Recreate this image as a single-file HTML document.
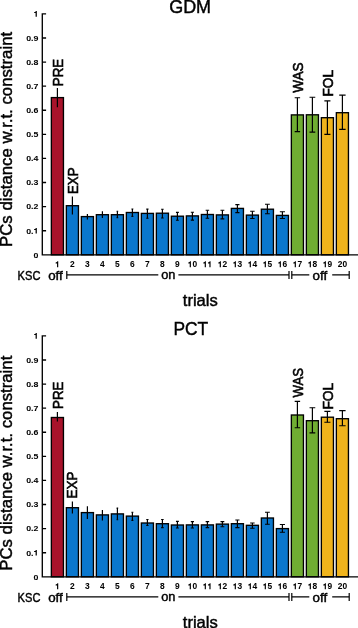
<!DOCTYPE html>
<html><head><meta charset="utf-8"><style>
html,body{margin:0;padding:0;background:#fff;width:358px;height:628px;overflow:hidden}
svg{display:block;font-family:"Liberation Sans",sans-serif}
text{stroke:#000;stroke-width:0.45px}
text.b{stroke-width:0.05px}
text.L{stroke-width:0.6px}
.g{opacity:0.999}
</style></head><body>
<svg width="358" height="628" viewBox="0 0 358 628">
<rect width="358" height="628" fill="#fff"/>
<g class="g" transform="translate(0,0)">

<text x="190.15" y="13.4" font-size="18.6" text-anchor="middle" textLength="41.9" lengthAdjust="spacingAndGlyphs">GDM</text>
<text transform="translate(11.9,139.4) rotate(-90)" font-size="16.2" text-anchor="middle" textLength="215" lengthAdjust="spacingAndGlyphs">PCs distance w.r.t. constraint</text>
<rect x="51.35" y="97.60" width="12.1" height="157.20" fill="#A8132B" stroke="#000" stroke-width="1.35"/>
<rect x="66.35" y="205.70" width="12.1" height="49.10" fill="#0A77CD" stroke="#000" stroke-width="1.35"/>
<rect x="81.35" y="216.60" width="12.1" height="38.20" fill="#0A77CD" stroke="#000" stroke-width="1.35"/>
<rect x="96.35" y="214.70" width="12.1" height="40.10" fill="#0A77CD" stroke="#000" stroke-width="1.35"/>
<rect x="111.35" y="214.70" width="12.1" height="40.10" fill="#0A77CD" stroke="#000" stroke-width="1.35"/>
<rect x="126.35" y="212.50" width="12.1" height="42.30" fill="#0A77CD" stroke="#000" stroke-width="1.35"/>
<rect x="141.35" y="213.40" width="12.1" height="41.40" fill="#0A77CD" stroke="#000" stroke-width="1.35"/>
<rect x="156.35" y="213.20" width="12.1" height="41.60" fill="#0A77CD" stroke="#000" stroke-width="1.35"/>
<rect x="171.35" y="216.20" width="12.1" height="38.60" fill="#0A77CD" stroke="#000" stroke-width="1.35"/>
<rect x="186.35" y="215.90" width="12.1" height="38.90" fill="#0A77CD" stroke="#000" stroke-width="1.35"/>
<rect x="201.35" y="214.50" width="12.1" height="40.30" fill="#0A77CD" stroke="#000" stroke-width="1.35"/>
<rect x="216.35" y="214.90" width="12.1" height="39.90" fill="#0A77CD" stroke="#000" stroke-width="1.35"/>
<rect x="231.35" y="208.40" width="12.1" height="46.40" fill="#0A77CD" stroke="#000" stroke-width="1.35"/>
<rect x="246.35" y="215.10" width="12.1" height="39.70" fill="#0A77CD" stroke="#000" stroke-width="1.35"/>
<rect x="261.35" y="209.20" width="12.1" height="45.60" fill="#0A77CD" stroke="#000" stroke-width="1.35"/>
<rect x="276.35" y="215.40" width="12.1" height="39.40" fill="#0A77CD" stroke="#000" stroke-width="1.35"/>
<rect x="291.35" y="114.90" width="12.1" height="139.90" fill="#70AD32" stroke="#000" stroke-width="1.35"/>
<rect x="306.35" y="114.80" width="12.1" height="140.00" fill="#70AD32" stroke="#000" stroke-width="1.35"/>
<rect x="321.35" y="117.70" width="12.1" height="137.10" fill="#F0B41C" stroke="#000" stroke-width="1.35"/>
<rect x="336.35" y="112.70" width="12.1" height="142.10" fill="#F0B41C" stroke="#000" stroke-width="1.35"/>
<path d="M57.40 88.1V107.3" stroke="#000" stroke-width="1.2" fill="none"/>
<path d="M72.40 196.6V214.4" stroke="#000" stroke-width="1.2" fill="none"/>
<path d="M87.40 214.1V219.5" stroke="#000" stroke-width="1.2" fill="none"/>
<path d="M102.40 211.2V218.1" stroke="#000" stroke-width="1.2" fill="none"/>
<path d="M117.40 211.2V217.6" stroke="#000" stroke-width="1.2" fill="none"/>
<path d="M116.60 211.2H118.20M116.60 217.6H118.20" stroke="#000" stroke-width="1.1" fill="none"/>
<path d="M132.40 209V216.4" stroke="#000" stroke-width="1.2" fill="none"/>
<path d="M131.44 209H133.36M131.44 216.4H133.36" stroke="#000" stroke-width="1.1" fill="none"/>
<path d="M147.40 209.1V218.3" stroke="#000" stroke-width="1.2" fill="none"/>
<path d="M146.28 209.1H148.52M146.28 218.3H148.52" stroke="#000" stroke-width="1.1" fill="none"/>
<path d="M162.40 209.3V218" stroke="#000" stroke-width="1.2" fill="none"/>
<path d="M161.12 209.3H163.68M161.12 218H163.68" stroke="#000" stroke-width="1.1" fill="none"/>
<path d="M177.40 212.4V220.3" stroke="#000" stroke-width="1.2" fill="none"/>
<path d="M175.96 212.4H178.84M175.96 220.3H178.84" stroke="#000" stroke-width="1.1" fill="none"/>
<path d="M192.40 212.3V220.1" stroke="#000" stroke-width="1.2" fill="none"/>
<path d="M190.80 212.3H194.00M190.80 220.1H194.00" stroke="#000" stroke-width="1.1" fill="none"/>
<path d="M207.40 210.2V218.2" stroke="#000" stroke-width="1.2" fill="none"/>
<path d="M205.64 210.2H209.16M205.64 218.2H209.16" stroke="#000" stroke-width="1.1" fill="none"/>
<path d="M222.40 210.3V218.9" stroke="#000" stroke-width="1.2" fill="none"/>
<path d="M220.48 210.3H224.32M220.48 218.9H224.32" stroke="#000" stroke-width="1.1" fill="none"/>
<path d="M237.40 204.6V212.6" stroke="#000" stroke-width="1.2" fill="none"/>
<path d="M235.32 204.6H239.48M235.32 212.6H239.48" stroke="#000" stroke-width="1.1" fill="none"/>
<path d="M252.40 211.3V218.5" stroke="#000" stroke-width="1.2" fill="none"/>
<path d="M250.16 211.3H254.64M250.16 218.5H254.64" stroke="#000" stroke-width="1.1" fill="none"/>
<path d="M267.40 204.2V213.8" stroke="#000" stroke-width="1.2" fill="none"/>
<path d="M265.00 204.2H269.80M265.00 213.8H269.80" stroke="#000" stroke-width="1.1" fill="none"/>
<path d="M282.40 211.8V218.5" stroke="#000" stroke-width="1.2" fill="none"/>
<path d="M279.84 211.8H284.96M279.84 218.5H284.96" stroke="#000" stroke-width="1.1" fill="none"/>
<path d="M297.40 97.8V131.6" stroke="#000" stroke-width="1.2" fill="none"/>
<path d="M294.68 97.8H300.12M294.68 131.6H300.12" stroke="#000" stroke-width="1.1" fill="none"/>
<path d="M312.40 97.3V132.1" stroke="#000" stroke-width="1.2" fill="none"/>
<path d="M309.52 97.3H315.28M309.52 132.1H315.28" stroke="#000" stroke-width="1.1" fill="none"/>
<path d="M327.40 100.9V134.4" stroke="#000" stroke-width="1.2" fill="none"/>
<path d="M324.36 100.9H330.44M324.36 134.4H330.44" stroke="#000" stroke-width="1.1" fill="none"/>
<path d="M342.40 95.1V129.4" stroke="#000" stroke-width="1.2" fill="none"/>
<path d="M339.20 95.1H345.60M339.20 129.4H345.60" stroke="#000" stroke-width="1.1" fill="none"/>
<path d="M42.3 13.3V254.8H358M42.3 254.80h3.8M42.3 230.71h3.8M42.3 206.62h3.8M42.3 182.53h3.8M42.3 158.44h3.8M42.3 134.35h3.8M42.3 110.26h3.8M42.3 86.17h3.8M42.3 62.08h3.8M42.3 37.99h3.8M42.3 13.90h3.8" stroke="#000" stroke-width="1.35" fill="none"/>
<g transform="translate(0,257.60) scale(1,0.9) translate(0,-257.60)"><text class="b" x="33.51" y="257.60" font-size="8.8" font-weight="bold">0</text></g>
<g transform="translate(0,233.51) scale(1,0.9) translate(0,-233.51)"><text class="b" x="26.17" y="233.51" font-size="8.8" font-weight="bold">0.</text><path d="M378 0V710H268C256 640 196 568 69 562V458H236V0Z" transform="translate(33.51,233.51) scale(0.00880,-0.00880)"/></g>
<g transform="translate(0,209.42) scale(1,0.9) translate(0,-209.42)"><text class="b" x="26.17" y="209.42" font-size="8.8" font-weight="bold">0.2</text></g>
<g transform="translate(0,185.33) scale(1,0.9) translate(0,-185.33)"><text class="b" x="26.17" y="185.33" font-size="8.8" font-weight="bold">0.3</text></g>
<g transform="translate(0,161.24) scale(1,0.9) translate(0,-161.24)"><text class="b" x="26.17" y="161.24" font-size="8.8" font-weight="bold">0.4</text></g>
<g transform="translate(0,137.15) scale(1,0.9) translate(0,-137.15)"><text class="b" x="26.17" y="137.15" font-size="8.8" font-weight="bold">0.5</text></g>
<g transform="translate(0,113.06) scale(1,0.9) translate(0,-113.06)"><text class="b" x="26.17" y="113.06" font-size="8.8" font-weight="bold">0.6</text></g>
<g transform="translate(0,88.97) scale(1,0.9) translate(0,-88.97)"><text class="b" x="26.17" y="88.97" font-size="8.8" font-weight="bold">0.7</text></g>
<g transform="translate(0,64.88) scale(1,0.9) translate(0,-64.88)"><text class="b" x="26.17" y="64.88" font-size="8.8" font-weight="bold">0.8</text></g>
<g transform="translate(0,40.79) scale(1,0.9) translate(0,-40.79)"><text class="b" x="26.17" y="40.79" font-size="8.8" font-weight="bold">0.9</text></g>
<g transform="translate(0,16.70) scale(1,0.9) translate(0,-16.70)"><path d="M378 0V710H268C256 640 196 568 69 562V458H236V0Z" transform="translate(33.51,16.70) scale(0.00880,-0.00880)"/></g>
<path d="M378 0V710H268C256 640 196 568 69 562V458H236V0Z" transform="translate(55.06,267.30) scale(0.00840,-0.00840)"/>
<text class="b" x="70.06" y="267.30" font-size="8.4" font-weight="bold">2</text>
<text class="b" x="85.06" y="267.30" font-size="8.4" font-weight="bold">3</text>
<text class="b" x="100.06" y="267.30" font-size="8.4" font-weight="bold">4</text>
<text class="b" x="115.06" y="267.30" font-size="8.4" font-weight="bold">5</text>
<text class="b" x="130.06" y="267.30" font-size="8.4" font-weight="bold">6</text>
<text class="b" x="145.06" y="267.30" font-size="8.4" font-weight="bold">7</text>
<text class="b" x="160.06" y="267.30" font-size="8.4" font-weight="bold">8</text>
<text class="b" x="175.06" y="267.30" font-size="8.4" font-weight="bold">9</text>
<path d="M378 0V710H268C256 640 196 568 69 562V458H236V0Z" transform="translate(187.73,267.30) scale(0.00840,-0.00840)"/><text class="b" x="192.40" y="267.30" font-size="8.4" font-weight="bold">0</text>
<path d="M378 0V710H268C256 640 196 568 69 562V458H236V0Z" transform="translate(202.73,267.30) scale(0.00840,-0.00840)"/><path d="M378 0V710H268C256 640 196 568 69 562V458H236V0Z" transform="translate(207.40,267.30) scale(0.00840,-0.00840)"/>
<path d="M378 0V710H268C256 640 196 568 69 562V458H236V0Z" transform="translate(217.73,267.30) scale(0.00840,-0.00840)"/><text class="b" x="222.40" y="267.30" font-size="8.4" font-weight="bold">2</text>
<path d="M378 0V710H268C256 640 196 568 69 562V458H236V0Z" transform="translate(232.73,267.30) scale(0.00840,-0.00840)"/><text class="b" x="237.40" y="267.30" font-size="8.4" font-weight="bold">3</text>
<path d="M378 0V710H268C256 640 196 568 69 562V458H236V0Z" transform="translate(247.73,267.30) scale(0.00840,-0.00840)"/><text class="b" x="252.40" y="267.30" font-size="8.4" font-weight="bold">4</text>
<path d="M378 0V710H268C256 640 196 568 69 562V458H236V0Z" transform="translate(262.73,267.30) scale(0.00840,-0.00840)"/><text class="b" x="267.40" y="267.30" font-size="8.4" font-weight="bold">5</text>
<path d="M378 0V710H268C256 640 196 568 69 562V458H236V0Z" transform="translate(277.73,267.30) scale(0.00840,-0.00840)"/><text class="b" x="282.40" y="267.30" font-size="8.4" font-weight="bold">6</text>
<path d="M378 0V710H268C256 640 196 568 69 562V458H236V0Z" transform="translate(292.73,267.30) scale(0.00840,-0.00840)"/><text class="b" x="297.40" y="267.30" font-size="8.4" font-weight="bold">7</text>
<path d="M378 0V710H268C256 640 196 568 69 562V458H236V0Z" transform="translate(307.73,267.30) scale(0.00840,-0.00840)"/><text class="b" x="312.40" y="267.30" font-size="8.4" font-weight="bold">8</text>
<path d="M378 0V710H268C256 640 196 568 69 562V458H236V0Z" transform="translate(322.73,267.30) scale(0.00840,-0.00840)"/><text class="b" x="327.40" y="267.30" font-size="8.4" font-weight="bold">9</text>
<text class="b" x="337.73" y="267.30" font-size="8.4" font-weight="bold">20</text>
<text x="17.6" y="279.7" font-size="12.5" textLength="22.8" lengthAdjust="spacingAndGlyphs">KSC</text>
<text x="48.2" y="279.7" font-size="12.8" textLength="14.6" lengthAdjust="spacingAndGlyphs">off</text>
<text x="168.3" y="278.9" font-size="12.8" text-anchor="middle">on</text>
<text x="319.8" y="279.7" font-size="12.8" text-anchor="middle" textLength="14.6" lengthAdjust="spacingAndGlyphs">off</text>
<path d="M66.8 275H158.3M178.4 275H289M291.8 275H309.3M332.2 275H349.2" stroke="#000" stroke-width="1.4" fill="none" transform="translate(0,-0.15)"/>
<path d="M66.8 271V279M289 271V279M291.8 271V279M349.2 271V279" stroke="#000" stroke-width="1.2" fill="none"/>
<text x="200.3" y="305.5" font-size="16.6" text-anchor="middle">trials</text>
<text transform="translate(63.0,86.2) rotate(-90)" class="L" font-size="15.5" textLength="27.4" lengthAdjust="spacingAndGlyphs">PRE</text>
<text transform="translate(77.7,194.0) rotate(-90)" class="L" font-size="15.5" textLength="26.6" lengthAdjust="spacingAndGlyphs">EXP</text>
<text transform="translate(303.3,92.8) rotate(-90)" class="L" font-size="15.5" textLength="30.4" lengthAdjust="spacingAndGlyphs">WAS</text>
<text transform="translate(333.0,96.5) rotate(-90)" class="L" font-size="15.5" textLength="26.5" lengthAdjust="spacingAndGlyphs">FOL</text>
</g>
<g class="g" transform="translate(0,322)">

<text x="190.85" y="13.4" font-size="18.6" text-anchor="middle" textLength="34.7" lengthAdjust="spacingAndGlyphs">PCT</text>
<text transform="translate(11.9,141.2) rotate(-90)" font-size="16.2" text-anchor="middle" textLength="215" lengthAdjust="spacingAndGlyphs">PCs distance w.r.t. constraint</text>
<rect x="51.35" y="95.50" width="12.1" height="159.30" fill="#A8132B" stroke="#000" stroke-width="1.35"/>
<rect x="66.35" y="185.70" width="12.1" height="69.10" fill="#0A77CD" stroke="#000" stroke-width="1.35"/>
<rect x="81.35" y="190.60" width="12.1" height="64.20" fill="#0A77CD" stroke="#000" stroke-width="1.35"/>
<rect x="96.35" y="192.90" width="12.1" height="61.90" fill="#0A77CD" stroke="#000" stroke-width="1.35"/>
<rect x="111.35" y="191.90" width="12.1" height="62.90" fill="#0A77CD" stroke="#000" stroke-width="1.35"/>
<rect x="126.35" y="194.10" width="12.1" height="60.70" fill="#0A77CD" stroke="#000" stroke-width="1.35"/>
<rect x="141.35" y="201.00" width="12.1" height="53.80" fill="#0A77CD" stroke="#000" stroke-width="1.35"/>
<rect x="156.35" y="201.70" width="12.1" height="53.10" fill="#0A77CD" stroke="#000" stroke-width="1.35"/>
<rect x="171.35" y="203.00" width="12.1" height="51.80" fill="#0A77CD" stroke="#000" stroke-width="1.35"/>
<rect x="186.35" y="202.90" width="12.1" height="51.90" fill="#0A77CD" stroke="#000" stroke-width="1.35"/>
<rect x="201.35" y="202.90" width="12.1" height="51.90" fill="#0A77CD" stroke="#000" stroke-width="1.35"/>
<rect x="216.35" y="202.10" width="12.1" height="52.70" fill="#0A77CD" stroke="#000" stroke-width="1.35"/>
<rect x="231.35" y="201.70" width="12.1" height="53.10" fill="#0A77CD" stroke="#000" stroke-width="1.35"/>
<rect x="246.35" y="203.30" width="12.1" height="51.50" fill="#0A77CD" stroke="#000" stroke-width="1.35"/>
<rect x="261.35" y="196.00" width="12.1" height="58.80" fill="#0A77CD" stroke="#000" stroke-width="1.35"/>
<rect x="276.35" y="206.60" width="12.1" height="48.20" fill="#0A77CD" stroke="#000" stroke-width="1.35"/>
<rect x="291.35" y="93.00" width="12.1" height="161.80" fill="#70AD32" stroke="#000" stroke-width="1.35"/>
<rect x="306.35" y="98.70" width="12.1" height="156.10" fill="#70AD32" stroke="#000" stroke-width="1.35"/>
<rect x="321.35" y="95.20" width="12.1" height="159.60" fill="#F0B41C" stroke="#000" stroke-width="1.35"/>
<rect x="336.35" y="96.70" width="12.1" height="158.10" fill="#F0B41C" stroke="#000" stroke-width="1.35"/>
<path d="M57.40 90V99.5" stroke="#000" stroke-width="1.2" fill="none"/>
<path d="M72.40 179.60000000000002V191.60000000000002" stroke="#000" stroke-width="1.2" fill="none"/>
<path d="M87.40 184.3V197" stroke="#000" stroke-width="1.2" fill="none"/>
<path d="M102.40 188V198.39999999999998" stroke="#000" stroke-width="1.2" fill="none"/>
<path d="M117.40 186.10000000000002V197.79999999999995" stroke="#000" stroke-width="1.2" fill="none"/>
<path d="M116.60 186.10000000000002H118.20M116.60 197.79999999999995H118.20" stroke="#000" stroke-width="1.1" fill="none"/>
<path d="M132.40 190.29999999999995V198.39999999999998" stroke="#000" stroke-width="1.2" fill="none"/>
<path d="M131.44 190.29999999999995H133.36M131.44 198.39999999999998H133.36" stroke="#000" stroke-width="1.1" fill="none"/>
<path d="M147.40 197.5V203.5" stroke="#000" stroke-width="1.2" fill="none"/>
<path d="M146.28 197.5H148.52M146.28 203.5H148.52" stroke="#000" stroke-width="1.1" fill="none"/>
<path d="M162.40 197.5V205.60000000000002" stroke="#000" stroke-width="1.2" fill="none"/>
<path d="M161.12 197.5H163.68M161.12 205.60000000000002H163.68" stroke="#000" stroke-width="1.1" fill="none"/>
<path d="M177.40 199.39999999999998V206" stroke="#000" stroke-width="1.2" fill="none"/>
<path d="M175.96 199.39999999999998H178.84M175.96 206H178.84" stroke="#000" stroke-width="1.1" fill="none"/>
<path d="M192.40 199.60000000000002V206" stroke="#000" stroke-width="1.2" fill="none"/>
<path d="M190.80 199.60000000000002H194.00M190.80 206H194.00" stroke="#000" stroke-width="1.1" fill="none"/>
<path d="M207.40 199.60000000000002V205.60000000000002" stroke="#000" stroke-width="1.2" fill="none"/>
<path d="M205.64 199.60000000000002H209.16M205.64 205.60000000000002H209.16" stroke="#000" stroke-width="1.1" fill="none"/>
<path d="M222.40 199.60000000000002V204.70000000000005" stroke="#000" stroke-width="1.2" fill="none"/>
<path d="M220.48 199.60000000000002H224.32M220.48 204.70000000000005H224.32" stroke="#000" stroke-width="1.1" fill="none"/>
<path d="M237.40 198V205.60000000000002" stroke="#000" stroke-width="1.2" fill="none"/>
<path d="M235.32 198H239.48M235.32 205.60000000000002H239.48" stroke="#000" stroke-width="1.1" fill="none"/>
<path d="M252.40 201V206.20000000000005" stroke="#000" stroke-width="1.2" fill="none"/>
<path d="M250.16 201H254.64M250.16 206.20000000000005H254.64" stroke="#000" stroke-width="1.1" fill="none"/>
<path d="M267.40 190.20000000000005V202.29999999999995" stroke="#000" stroke-width="1.2" fill="none"/>
<path d="M265.00 190.20000000000005H269.80M265.00 202.29999999999995H269.80" stroke="#000" stroke-width="1.1" fill="none"/>
<path d="M282.40 202.5V210.20000000000005" stroke="#000" stroke-width="1.2" fill="none"/>
<path d="M279.84 202.5H284.96M279.84 210.20000000000005H284.96" stroke="#000" stroke-width="1.1" fill="none"/>
<path d="M297.40 79.39999999999998V105.80000000000001" stroke="#000" stroke-width="1.2" fill="none"/>
<path d="M294.68 79.39999999999998H300.12M294.68 105.80000000000001H300.12" stroke="#000" stroke-width="1.1" fill="none"/>
<path d="M312.40 85.80000000000001V110.89999999999998" stroke="#000" stroke-width="1.2" fill="none"/>
<path d="M309.52 85.80000000000001H315.28M309.52 110.89999999999998H315.28" stroke="#000" stroke-width="1.1" fill="none"/>
<path d="M327.40 89.39999999999998V100.30000000000001" stroke="#000" stroke-width="1.2" fill="none"/>
<path d="M324.36 89.39999999999998H330.44M324.36 100.30000000000001H330.44" stroke="#000" stroke-width="1.1" fill="none"/>
<path d="M342.40 88.60000000000002V103.80000000000001" stroke="#000" stroke-width="1.2" fill="none"/>
<path d="M339.20 88.60000000000002H345.60M339.20 103.80000000000001H345.60" stroke="#000" stroke-width="1.1" fill="none"/>
<path d="M42.3 13.3V254.8H358M42.3 254.80h3.8M42.3 230.71h3.8M42.3 206.62h3.8M42.3 182.53h3.8M42.3 158.44h3.8M42.3 134.35h3.8M42.3 110.26h3.8M42.3 86.17h3.8M42.3 62.08h3.8M42.3 37.99h3.8M42.3 13.90h3.8" stroke="#000" stroke-width="1.35" fill="none"/>
<g transform="translate(0,257.60) scale(1,0.9) translate(0,-257.60)"><text class="b" x="33.51" y="257.60" font-size="8.8" font-weight="bold">0</text></g>
<g transform="translate(0,233.51) scale(1,0.9) translate(0,-233.51)"><text class="b" x="26.17" y="233.51" font-size="8.8" font-weight="bold">0.</text><path d="M378 0V710H268C256 640 196 568 69 562V458H236V0Z" transform="translate(33.51,233.51) scale(0.00880,-0.00880)"/></g>
<g transform="translate(0,209.42) scale(1,0.9) translate(0,-209.42)"><text class="b" x="26.17" y="209.42" font-size="8.8" font-weight="bold">0.2</text></g>
<g transform="translate(0,185.33) scale(1,0.9) translate(0,-185.33)"><text class="b" x="26.17" y="185.33" font-size="8.8" font-weight="bold">0.3</text></g>
<g transform="translate(0,161.24) scale(1,0.9) translate(0,-161.24)"><text class="b" x="26.17" y="161.24" font-size="8.8" font-weight="bold">0.4</text></g>
<g transform="translate(0,137.15) scale(1,0.9) translate(0,-137.15)"><text class="b" x="26.17" y="137.15" font-size="8.8" font-weight="bold">0.5</text></g>
<g transform="translate(0,113.06) scale(1,0.9) translate(0,-113.06)"><text class="b" x="26.17" y="113.06" font-size="8.8" font-weight="bold">0.6</text></g>
<g transform="translate(0,88.97) scale(1,0.9) translate(0,-88.97)"><text class="b" x="26.17" y="88.97" font-size="8.8" font-weight="bold">0.7</text></g>
<g transform="translate(0,64.88) scale(1,0.9) translate(0,-64.88)"><text class="b" x="26.17" y="64.88" font-size="8.8" font-weight="bold">0.8</text></g>
<g transform="translate(0,40.79) scale(1,0.9) translate(0,-40.79)"><text class="b" x="26.17" y="40.79" font-size="8.8" font-weight="bold">0.9</text></g>
<g transform="translate(0,16.70) scale(1,0.9) translate(0,-16.70)"><path d="M378 0V710H268C256 640 196 568 69 562V458H236V0Z" transform="translate(33.51,16.70) scale(0.00880,-0.00880)"/></g>
<path d="M378 0V710H268C256 640 196 568 69 562V458H236V0Z" transform="translate(55.06,267.30) scale(0.00840,-0.00840)"/>
<text class="b" x="70.06" y="267.30" font-size="8.4" font-weight="bold">2</text>
<text class="b" x="85.06" y="267.30" font-size="8.4" font-weight="bold">3</text>
<text class="b" x="100.06" y="267.30" font-size="8.4" font-weight="bold">4</text>
<text class="b" x="115.06" y="267.30" font-size="8.4" font-weight="bold">5</text>
<text class="b" x="130.06" y="267.30" font-size="8.4" font-weight="bold">6</text>
<text class="b" x="145.06" y="267.30" font-size="8.4" font-weight="bold">7</text>
<text class="b" x="160.06" y="267.30" font-size="8.4" font-weight="bold">8</text>
<text class="b" x="175.06" y="267.30" font-size="8.4" font-weight="bold">9</text>
<path d="M378 0V710H268C256 640 196 568 69 562V458H236V0Z" transform="translate(187.73,267.30) scale(0.00840,-0.00840)"/><text class="b" x="192.40" y="267.30" font-size="8.4" font-weight="bold">0</text>
<path d="M378 0V710H268C256 640 196 568 69 562V458H236V0Z" transform="translate(202.73,267.30) scale(0.00840,-0.00840)"/><path d="M378 0V710H268C256 640 196 568 69 562V458H236V0Z" transform="translate(207.40,267.30) scale(0.00840,-0.00840)"/>
<path d="M378 0V710H268C256 640 196 568 69 562V458H236V0Z" transform="translate(217.73,267.30) scale(0.00840,-0.00840)"/><text class="b" x="222.40" y="267.30" font-size="8.4" font-weight="bold">2</text>
<path d="M378 0V710H268C256 640 196 568 69 562V458H236V0Z" transform="translate(232.73,267.30) scale(0.00840,-0.00840)"/><text class="b" x="237.40" y="267.30" font-size="8.4" font-weight="bold">3</text>
<path d="M378 0V710H268C256 640 196 568 69 562V458H236V0Z" transform="translate(247.73,267.30) scale(0.00840,-0.00840)"/><text class="b" x="252.40" y="267.30" font-size="8.4" font-weight="bold">4</text>
<path d="M378 0V710H268C256 640 196 568 69 562V458H236V0Z" transform="translate(262.73,267.30) scale(0.00840,-0.00840)"/><text class="b" x="267.40" y="267.30" font-size="8.4" font-weight="bold">5</text>
<path d="M378 0V710H268C256 640 196 568 69 562V458H236V0Z" transform="translate(277.73,267.30) scale(0.00840,-0.00840)"/><text class="b" x="282.40" y="267.30" font-size="8.4" font-weight="bold">6</text>
<path d="M378 0V710H268C256 640 196 568 69 562V458H236V0Z" transform="translate(292.73,267.30) scale(0.00840,-0.00840)"/><text class="b" x="297.40" y="267.30" font-size="8.4" font-weight="bold">7</text>
<path d="M378 0V710H268C256 640 196 568 69 562V458H236V0Z" transform="translate(307.73,267.30) scale(0.00840,-0.00840)"/><text class="b" x="312.40" y="267.30" font-size="8.4" font-weight="bold">8</text>
<path d="M378 0V710H268C256 640 196 568 69 562V458H236V0Z" transform="translate(322.73,267.30) scale(0.00840,-0.00840)"/><text class="b" x="327.40" y="267.30" font-size="8.4" font-weight="bold">9</text>
<text class="b" x="337.73" y="267.30" font-size="8.4" font-weight="bold">20</text>
<text x="17.6" y="279.7" font-size="12.5" textLength="22.8" lengthAdjust="spacingAndGlyphs">KSC</text>
<text x="48.2" y="279.7" font-size="12.8" textLength="14.6" lengthAdjust="spacingAndGlyphs">off</text>
<text x="168.3" y="278.9" font-size="12.8" text-anchor="middle">on</text>
<text x="319.8" y="279.7" font-size="12.8" text-anchor="middle" textLength="14.6" lengthAdjust="spacingAndGlyphs">off</text>
<path d="M66.8 275H158.3M178.4 275H289M291.8 275H309.3M332.2 275H349.2" stroke="#000" stroke-width="1.4" fill="none" transform="translate(0,-0.15)"/>
<path d="M66.8 271V279M289 271V279M291.8 271V279M349.2 271V279" stroke="#000" stroke-width="1.2" fill="none"/>
<text x="200.3" y="305.5" font-size="16.6" text-anchor="middle">trials</text>
<text transform="translate(62.5,87.0) rotate(-90)" class="L" font-size="15.5" textLength="27.5" lengthAdjust="spacingAndGlyphs">PRE</text>
<text transform="translate(77.3,176.4) rotate(-90)" class="L" font-size="15.5" textLength="27.0" lengthAdjust="spacingAndGlyphs">EXP</text>
<text transform="translate(303.1,75.6) rotate(-90)" class="L" font-size="15.5" textLength="29.6" lengthAdjust="spacingAndGlyphs">WAS</text>
<text transform="translate(333.0,87.6) rotate(-90)" class="L" font-size="15.5" textLength="26.9" lengthAdjust="spacingAndGlyphs">FOL</text>
</g>
</svg>
</body></html>
